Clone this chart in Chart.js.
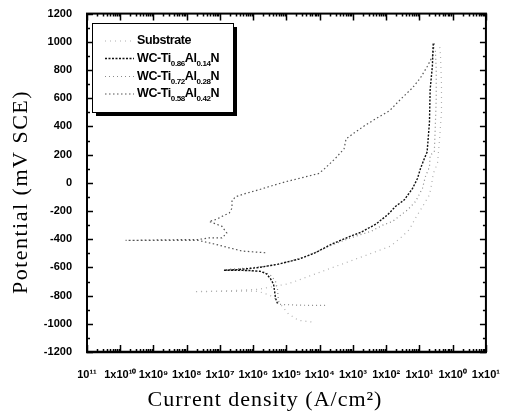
<!DOCTYPE html>
<html>
<head>
<meta charset="utf-8">
<script src="https://cdn.jsdelivr.net/npm/chart.js@4.4.1/dist/chart.umd.min.js"></script>
<style>
    html, body { margin: 0; padding: 0; background: #fff; }
    #wrap { width: 508px; height: 417px; }
</style>
</head>
<body>
<div id="wrap"><canvas id="chart" width="508" height="417"></canvas></div>
<script>
// Dados (corrente em A/cm2, potencial em mV SCE)
const substrateI = [5.6e-5, 2.3e-5, 1.15e-5, 7.1e-6, 4.1e-6, 2.0e-6, 1.17e-6, 1.9e-7, 1.66e-8, 1.9e-7, 1.45e-6, 1.15e-5, 2.0e-3, 1.35e-2, 2.7e-2, 5.0e-2, 7.6e-2, 0.13, 0.20, 0.23, 0.26, 0.35, 0.40, 0.46, 0.46, 0.43, 0.40];
const substrateE = [-987, -975, -930, -870, -810, -780, -768, -770, -772, -765, -755, -716, -522, -449, -391, -331, -250, -160, -86, -16, 65, 140, 300, 500, 700, 900, 990];

const ti86I = [5.4e-6, 4.7e-6, 4.4e-6, 4.1e-6, 3.3e-6, 2.5e-6, 1.66e-6, 7.4e-7, 2.6e-7, 1.3e-7, 3.7e-7, 1.45e-6, 5.7e-6, 2.3e-5, 7.4e-5, 2.2e-4, 7.1e-4, 1.74e-3, 4.9e-3, 1.1e-2, 1.9e-2, 3.5e-2, 6.2e-2, 8.7e-2, 0.107, 0.14, 0.17, 0.20, 0.21, 0.245, 0.26];
const ti86E = [-856, -820, -770, -720, -680, -645, -628, -622, -620, -620, -615, -601, -577, -542, -496, -437, -386, -351, -293, -227, -168, -121, -40, 30, 100, 171, 218, 428, 662, 828, 989];

const ti72I = [1.45e-4, 2.3e-5, 6.2e-6, 5.7e-6, 5.4e-6, 4.7e-6, 3.5e-6, 2.2e-6, 1.03e-6, 3.7e-7, 1.9e-7, 7.4e-7, 2.9e-6, 1.15e-5, 4.6e-5, 1.8e-4, 8.1e-4, 3.5e-3, 7.9e-3, 1.55e-2, 4.4e-2, 7.6e-2, 0.123, 0.15, 0.20, 0.21, 0.28, 0.30, 0.32, 0.32, 0.30];
const ti72E = [-870, -868, -862, -830, -760, -700, -660, -632, -625, -622, -612, -605, -590, -560, -515, -452, -392, -344, -300, -274, -192, -133, -40, 42, 112, 196, 218, 400, 600, 800, 950];

const ti58I = [2.3e-6, 4.6e-7, 1.9e-7, 7.6e-8, 2.3e-8, 1.5e-9, 1.45e-10, 1.5e-9, 2.3e-8, 4.7e-8, 1.15e-7, 1.6e-7, 1.15e-7, 8.1e-8, 4.7e-8, 7.6e-8, 1.3e-7, 1.9e-7, 2.3e-7, 2.3e-7, 3.0e-7, 6.0e-7, 1.45e-6, 2.9e-6, 9.3e-6, 9.1e-5, 1.27e-4, 2.9e-4, 5.4e-4, 6.2e-4, 1.15e-3, 2.3e-3, 5.6e-3, 1.27e-2, 2.7e-2, 6.2e-2, 0.107, 0.173, 0.245, 0.28];
const ti58E = [-496, -484, -461, -437, -409, -409, -409, -405, -402, -391, -391, -356, -309, -295, -274, -260, -232, -215, -180, -126, -98, -75, -50, -28, 7, 65, 91, 171, 241, 311, 358, 407, 463, 512, 592, 674, 744, 826, 896, 989];

// Eixos
const xTickValues = [1e-11, 1e-10, 1e-9, 1e-8, 1e-7, 1e-6, 1e-5, 1e-4, 1e-3, 1e-2, 1e-1, 1, 10];
const xTickLabels = ['10\u00B9\u00B9', '1x10\u00B9\u2070', '1x10\u2079', '1x10\u2078', '1x10\u2077', '1x10\u2076', '1x10\u2075', '1x10\u2074', '1x10\u00B3', '1x10\u00B2', '1x10\u00B9', '1x10\u2070', '1x10\u00B9'];
const xTitle = 'Current density (A/cm\u00B2)';
const yTitle = 'Potential (mV SCE)';

// Legenda: [texto, sub, texto, sub, texto]
const legendLabels = [
    ['Substrate'],
    ['WC-Ti', '0.86', 'Al', '0.14', 'N'],
    ['WC-Ti', '0.72', 'Al', '0.28', 'N'],
    ['WC-Ti', '0.58', 'Al', '0.42', 'N']
];

const sansFont = "'Liberation Sans', Arial, sans-serif";
const serifFont = "'Liberation Serif', 'DejaVu Serif', serif";

function toPoints(xs, ys) {
    return xs.map((x, i) => ({ x: x, y: ys[i] }));
}

const seriesStyle = [
    { color: '#b0b0b0', dash: [1, 4], width: 1.2 },
    { color: '#111111', dash: [2, 1.5], width: 1.4 },
    { color: '#8a8a8a', dash: [1, 3], width: 1.2 },
    { color: '#555555', dash: [1.5, 2.5], width: 1.2 }
];

const datasets = [
    toPoints(substrateI, substrateE),
    toPoints(ti86I, ti86E),
    toPoints(ti72I, ti72E),
    toPoints(ti58I, ti58E)
].map((data, i) => ({
    data: data,
    showLine: true,
    pointRadius: 0,
    borderColor: seriesStyle[i].color,
    borderWidth: seriesStyle[i].width,
    borderDash: seriesStyle[i].dash,
    tension: 0
}));

// Moldura com marcas para dentro, títulos dos eixos e legenda com subscritos
const framePlugin = {
    id: 'frame',
    afterDatasetsDraw(chart) {
        const ctx = chart.ctx;
        const a = chart.chartArea;
        const xs = chart.scales.x;
        const ys = chart.scales.y;
        ctx.save();
        ctx.strokeStyle = '#000';
        ctx.lineWidth = 2;
        ctx.strokeRect(a.left, a.top, a.right - a.left, a.bottom - a.top);
        ctx.lineWidth = 2.5;
        ctx.beginPath();
        ctx.moveTo(a.left - 1, a.bottom);
        ctx.lineTo(a.right + 1, a.bottom);
        ctx.stroke();

        ctx.lineWidth = 1.5;
        ctx.beginPath();
        for (let v = -1200; v <= 1200; v += 100) {
            const py = Math.round(ys.getPixelForValue(v)) + 0.5;
            const len = v % 200 === 0 ? 6 : 3;
            ctx.moveTo(a.left, py); ctx.lineTo(a.left + len, py);
            ctx.moveTo(a.right, py); ctx.lineTo(a.right - len, py);
        }
        for (let d = -11; d <= 1; d++) {
            for (let m = 1; m <= 9; m++) {
                const v = m * Math.pow(10, d);
                if (v > 10) break;
                const px = Math.round(xs.getPixelForValue(v)) + 0.5;
                const len = m === 1 ? 7 : 3;
                ctx.moveTo(px, a.bottom); ctx.lineTo(px, a.bottom - len);
                ctx.moveTo(px, a.top); ctx.lineTo(px, a.top + len);
            }
        }
        ctx.stroke();

        // Títulos dos eixos
        ctx.fillStyle = '#000';
        ctx.textAlign = 'center';
        ctx.textBaseline = 'middle';
        ctx.font = '22px ' + serifFont;
        ctx.letterSpacing = '1px';
        ctx.fillText(xTitle, 265, 400);
        ctx.save();
        ctx.translate(21, 192);
        ctx.rotate(-Math.PI / 2);
        ctx.letterSpacing = '1.5px';
        ctx.fillText(yTitle, 0, 0);
        ctx.restore();
        ctx.letterSpacing = '0px';

        // Legenda
        const bx = 92, by = 23, bw = 141, bh = 89;
        ctx.fillStyle = '#000';
        ctx.fillRect(bx + 4, by + 4, bw, bh);
        ctx.fillStyle = '#fff';
        ctx.fillRect(bx, by, bw, bh);
        ctx.lineWidth = 1;
        ctx.strokeStyle = '#000';
        ctx.strokeRect(bx + 0.5, by + 0.5, bw, bh);

        const rows = [41, 58.5, 76.5, 94];
        ctx.textAlign = 'left';
        legendLabels.forEach((parts, i) => {
            const y = rows[i];
            ctx.strokeStyle = seriesStyle[i].color;
            ctx.lineWidth = seriesStyle[i].width;
            ctx.setLineDash(seriesStyle[i].dash);
            ctx.beginPath();
            ctx.moveTo(105, y);
            ctx.lineTo(134, y);
            ctx.stroke();
            ctx.setLineDash([]);

            let x = 137;
            ctx.fillStyle = '#000';
            ctx.letterSpacing = '-0.4px';
            parts.forEach((txt, k) => {
                const sub = k % 2 === 1;
                ctx.font = sub ? 'bold 8px ' + sansFont : 'bold 12.5px ' + sansFont;
                ctx.fillText(txt, x, sub ? y + 5 : y);
                x += ctx.measureText(txt).width;
            });
            ctx.letterSpacing = '0px';
        });
        ctx.restore();
    }
};

new Chart(document.getElementById('chart'), {
    type: 'scatter',
    data: { datasets: datasets },
    options: {
        responsive: false,
        animation: false,
        layout: { padding: { top: 10, right: 18, left: 0, bottom: 0 } },
        plugins: {
            legend: { display: false },
            tooltip: { enabled: false }
        },
        scales: {
            x: {
                type: 'logarithmic',
                min: 1e-11,
                max: 10,
                grid: { display: false },
                border: { display: false },
                afterBuildTicks: (scale) => {
                    scale.ticks = xTickValues.map(v => ({ value: v }));
                },
                afterFit: (scale) => { scale.height = 65; },
                ticks: {
                    autoSkip: false,
                    maxRotation: 0,
                    padding: 8,
                    color: '#000',
                    font: { family: sansFont, size: 11, weight: 'bold' },
                    callback: (value, index) => xTickLabels[index]
                }
            },
            y: {
                min: -1200,
                max: 1200,
                grid: { display: false },
                border: { display: false },
                afterFit: (scale) => { scale.width = 87; },
                ticks: {
                    stepSize: 200,
                    padding: 7,
                    color: '#000',
                    font: { family: sansFont, size: 11, weight: 'bold' },
                    callback: (value) => String(value)
                }
            }
        }
    },
    plugins: [framePlugin]
});
</script>
</body>
</html>
